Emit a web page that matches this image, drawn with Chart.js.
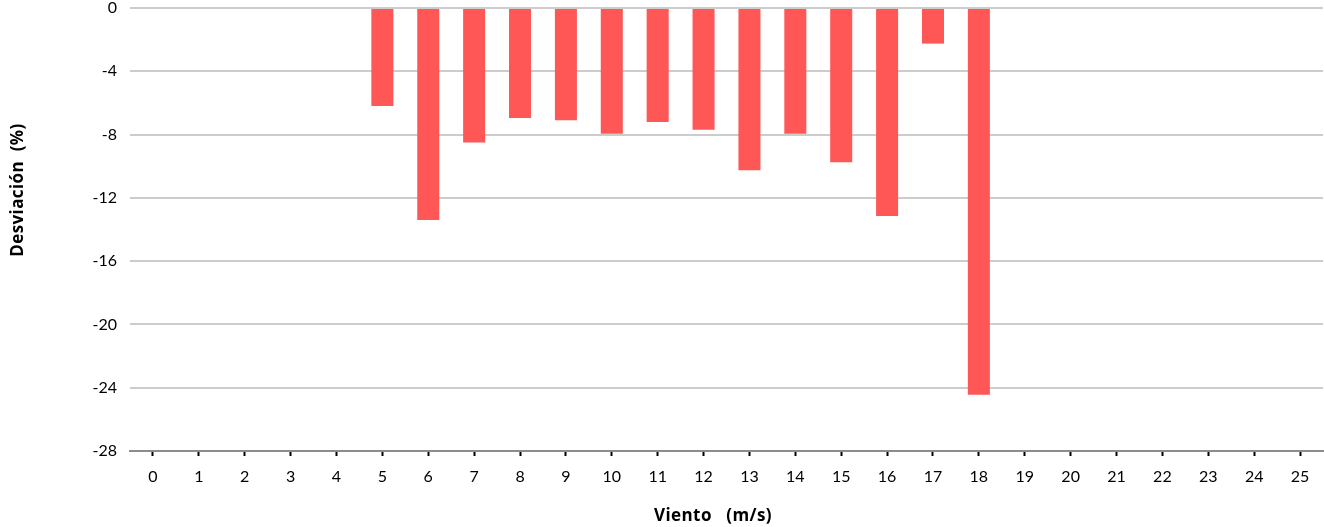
<!DOCTYPE html>
<html>
<head>
<meta charset="utf-8">
<script src="https://cdn.jsdelivr.net/npm/chart.js@4"></script>
<style>
  html, body { margin: 0; padding: 0; background: #fff; }
  #wrap { width: 1324px; height: 527px; }
</style>
</head>
<body>
<div id="wrap"><canvas id="chart0" width="1324" height="527"></canvas></div>
<script>
// categories: wind speed (m/s)
const vientos = ["0","1","2","3","4","5","6","7","8","9","10","11","12","13","14","15","16","17","18","19","20","21","22","23","24","25"];
// deviation (%) per wind speed, null where there is no bar
const desviacion = [null, null, null, null, null, -6.2, -13.4, -8.5, -6.95, -7.1, -7.95, -7.2, -7.7, -10.25, -7.95, -9.75, -13.15, -2.25, -24.45, null, null, null, null, null, null, null];
const yTicks = [0, -4, -8, -12, -16, -20, -24, -28];

const yTitle = "Desviación  (%)";
const xTitle = "Viento   (m/s)";

let ctx = document.getElementById("chart0").getContext("2d");

// axis titles drawn by hand, they sit off-centre in the original
const axisTitles = {
  id: "axisTitles",
  afterDraw(chart) {
    const c = chart.ctx;
    c.save();
    c.fillStyle = "#000";
    c.font = "bold 17px 'Open Sans'";
    c.letterSpacing = "0.4px";
    c.textAlign = "center";
    c.textBaseline = "middle";
    c.fillText(xTitle, 713, 516);
    c.translate(18, 190);
    c.rotate(-Math.PI / 2);
    c.fillText(yTitle, 0, 0);
    c.restore();
  }
};

let chart = new Chart(ctx, {
  type: "bar",
  data: {
    labels: vientos,
    datasets: [{
      label: "Desviación",
      data: desviacion,
      backgroundColor: "#FF5656",
      categoryPercentage: 1,
      barPercentage: 0.48
    }]
  },
  options: {
    responsive: false,
    animation: false,
    layout: { padding: { top: 0, right: 1, left: 0, bottom: 0 } },
    plugins: {
      legend: { display: false },
      tooltip: { enabled: false }
    },
    scales: {
      x: {
        grid: {
          offset: false,
          drawOnChartArea: false,
          drawTicks: true,
          tickLength: 5,
          tickWidth: 2,
          tickColor: "#000"
        },
        border: { display: true, color: "#8c8c8c", width: 2 },
        ticks: {
          color: "#000",
          font: { family: "Lato", size: 16 },
          padding: 11,
          maxRotation: 0,
          autoSkip: false
        },
        afterFit(scale) { scale.height = 76; }
      },
      y: {
        min: -28,
        max: 0,
        afterBuildTicks(scale) {
          scale.ticks = yTicks.map(v => ({ value: v }));
        },
        grid: {
          color: "#cccccc",
          lineWidth: 2,
          drawTicks: true,
          tickLength: 13,
          tickColor: "rgba(0,0,0,0)"
        },
        border: { display: false },
        ticks: {
          color: "#000",
          font: { family: "Lato", size: 16, lineHeight: "16px" },
          padding: 0
        },
        afterFit(scale) { scale.width = 130; }
      }
    }
  },
  plugins: [axisTitles]
});
</script>
</body>
</html>
